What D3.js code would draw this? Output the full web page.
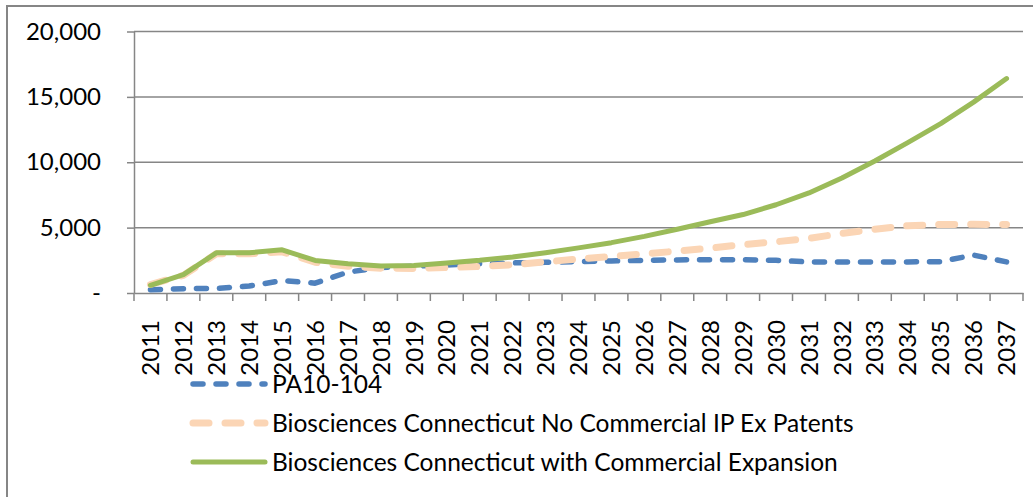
<!DOCTYPE html>
<html>
<head>
<meta charset="utf-8">
<script src="https://cdn.jsdelivr.net/npm/d3@7"></script>
<style>
  body { margin: 0; background: #fff; }
  text { font-family: Lato, "Open Sans", sans-serif; fill: #000; }
</style>
</head>
<body>
<div id="graph"></div>
<script>
// chart size matches the window
var width = 1033,
    height = 497,
    margin = {"top": 31.5, "right": 10, "bottom": 204, "left": 134},
    graph_width = 1023 - margin.left,
    graph_height = 293 - margin.top;

var years = ["2011","2012","2013","2014","2015","2016","2017","2018","2019","2020",
             "2021","2022","2023","2024","2025","2026","2027","2028","2029","2030",
             "2031","2032","2033","2034","2035","2036","2037"];

var pa10 = [250, 330, 350, 530, 950, 750, 1600, 1950, 2050, 2150,
            2250, 2300, 2350, 2400, 2450, 2500, 2530, 2550, 2550, 2500,
            2380, 2380, 2380, 2380, 2400, 2900, 2380];

var noCommercial = [650, 1350, 3000, 3000, 3150, 2350, 2050, 1900, 1880, 1950,
                    2030, 2160, 2380, 2610, 2790, 3000, 3200, 3430, 3700, 3920,
                    4180, 4550, 4880, 5150, 5240, 5250, 5240];

var withCommercial = [590, 1400, 3070, 3080, 3300, 2490, 2240, 2060, 2110, 2300,
                      2500, 2760, 3080, 3450, 3850, 4330, 4880, 5450, 6000, 6750,
                      7650, 8800, 10100, 11500, 12950, 14600, 16400];

var seriesNames = ["PA10-104",
                   "Biosciences Connecticut No Commercial IP Ex Patents",
                   "Biosciences Connecticut with Commercial Expansion"];

var yTicks = [0, 5000, 10000, 15000, 20000];

var series = [
    {"name": seriesNames[0], "values": pa10, "color": "#4F81BD", "w": 5.5, "dash": "10,13"},
    {"name": seriesNames[1], "values": noCommercial, "color": "#FBD5B5", "w": 7, "dash": "16,16"},
    {"name": seriesNames[2], "values": withCommercial, "color": "#9BBB59", "w": 5, "dash": null}
];

var svg = d3.select("#graph").append("svg")
    .attr("width", width)
    .attr("height", height);

// outer chart border (right and bottom edges fall outside the picture)
svg.append("rect")
    .attr("x", 7).attr("y", 6)
    .attr("width", 1040).attr("height", 500)
    .attr("fill", "none")
    .attr("stroke", "#868686")
    .attr("stroke-width", 2);

var graph = svg.append("g")
    .attr("transform", "translate(" + margin.left + "," + margin.top + ")");

var x = d3.scaleBand().domain(years).range([0, graph_width]);
var y = d3.scaleLinear().domain([0, 20000]).range([graph_height, 0]);

// gridlines
graph.selectAll(".grid")
    .data(yTicks.filter(d => d > 0))
  .enter().append("line")
    .attr("class", "grid")
    .attr("x1", 0).attr("x2", graph_width)
    .attr("y1", d => y(d)).attr("y2", d => y(d))
    .attr("stroke", "#868686")
    .attr("stroke-width", 1.5);

// y axis
var yAxis = graph.append("g")
    .call(d3.axisLeft(y).tickValues(yTicks).tickSizeOuter(0).tickSizeInner(7).tickPadding(26)
        .tickFormat(d => d === 0 ? "-" : d3.format(",")(d)));

// x axis, ticks between categories
var xAxis = graph.append("g")
    .attr("transform", "translate(0," + graph_height + ")")
    .call(d3.axisBottom(x).tickSize(0).tickFormat(""));

xAxis.selectAll(".xtick")
    .data(years.concat(["end"]))
  .enter().append("line")
    .attr("class", "xtick")
    .attr("x1", (d, i) => i * x.step()).attr("x2", (d, i) => i * x.step())
    .attr("y1", 0).attr("y2", 8)
    .attr("stroke", "#868686")
    .attr("stroke-width", 1.5);

xAxis.selectAll(".xlabel")
    .data(years)
  .enter().append("text")
    .attr("class", "xlabel")
    .attr("transform", d => "translate(" + (x(d) + x.bandwidth() / 2) + ",27) rotate(-90)")
    .attr("text-anchor", "end")
    .attr("dy", "0.36em")
    .style("font-size", "24px")
    .text(d => d);

[yAxis, xAxis].forEach(function(ax) {
    ax.select(".domain").attr("stroke", "#868686").attr("stroke-width", 1.5);
    ax.selectAll(".tick line").attr("stroke", "#868686").attr("stroke-width", 1.5);
});
yAxis.selectAll(".tick text").style("font-size", "24px").attr("fill", "#000");

// series lines
var line = d3.line()
    .x((d, i) => x(years[i]) + x.bandwidth() / 2)
    .y(d => y(d));

graph.selectAll(".series")
    .data(series)
  .enter().append("path")
    .attr("class", "series")
    .attr("d", d => line(d.values))
    .attr("fill", "none")
    .attr("stroke", d => d.color)
    .attr("stroke-width", d => d.w)
    .attr("stroke-linecap", "round")
    .attr("stroke-linejoin", "round")
    .attr("stroke-dasharray", d => d.dash);

// legend
var legend = svg.append("g")
    .selectAll(".legend")
    .data(series)
  .enter().append("g")
    .attr("class", "legend")
    .attr("transform", (d, i) => "translate(193," + (384 + i * 39) + ")");

legend.append("line")
    .attr("x1", 0).attr("x2", 72)
    .attr("y1", 0).attr("y2", 0)
    .attr("stroke", d => d.color)
    .attr("stroke-width", d => d.w)
    .attr("stroke-linecap", "round")
    .attr("stroke-dasharray", d => d.dash);

legend.append("text")
    .attr("x", 79)
    .attr("dy", "0.36em")
    .style("font-size", "24.5px")
    .text(d => d.name);
</script>
</body>
</html>
